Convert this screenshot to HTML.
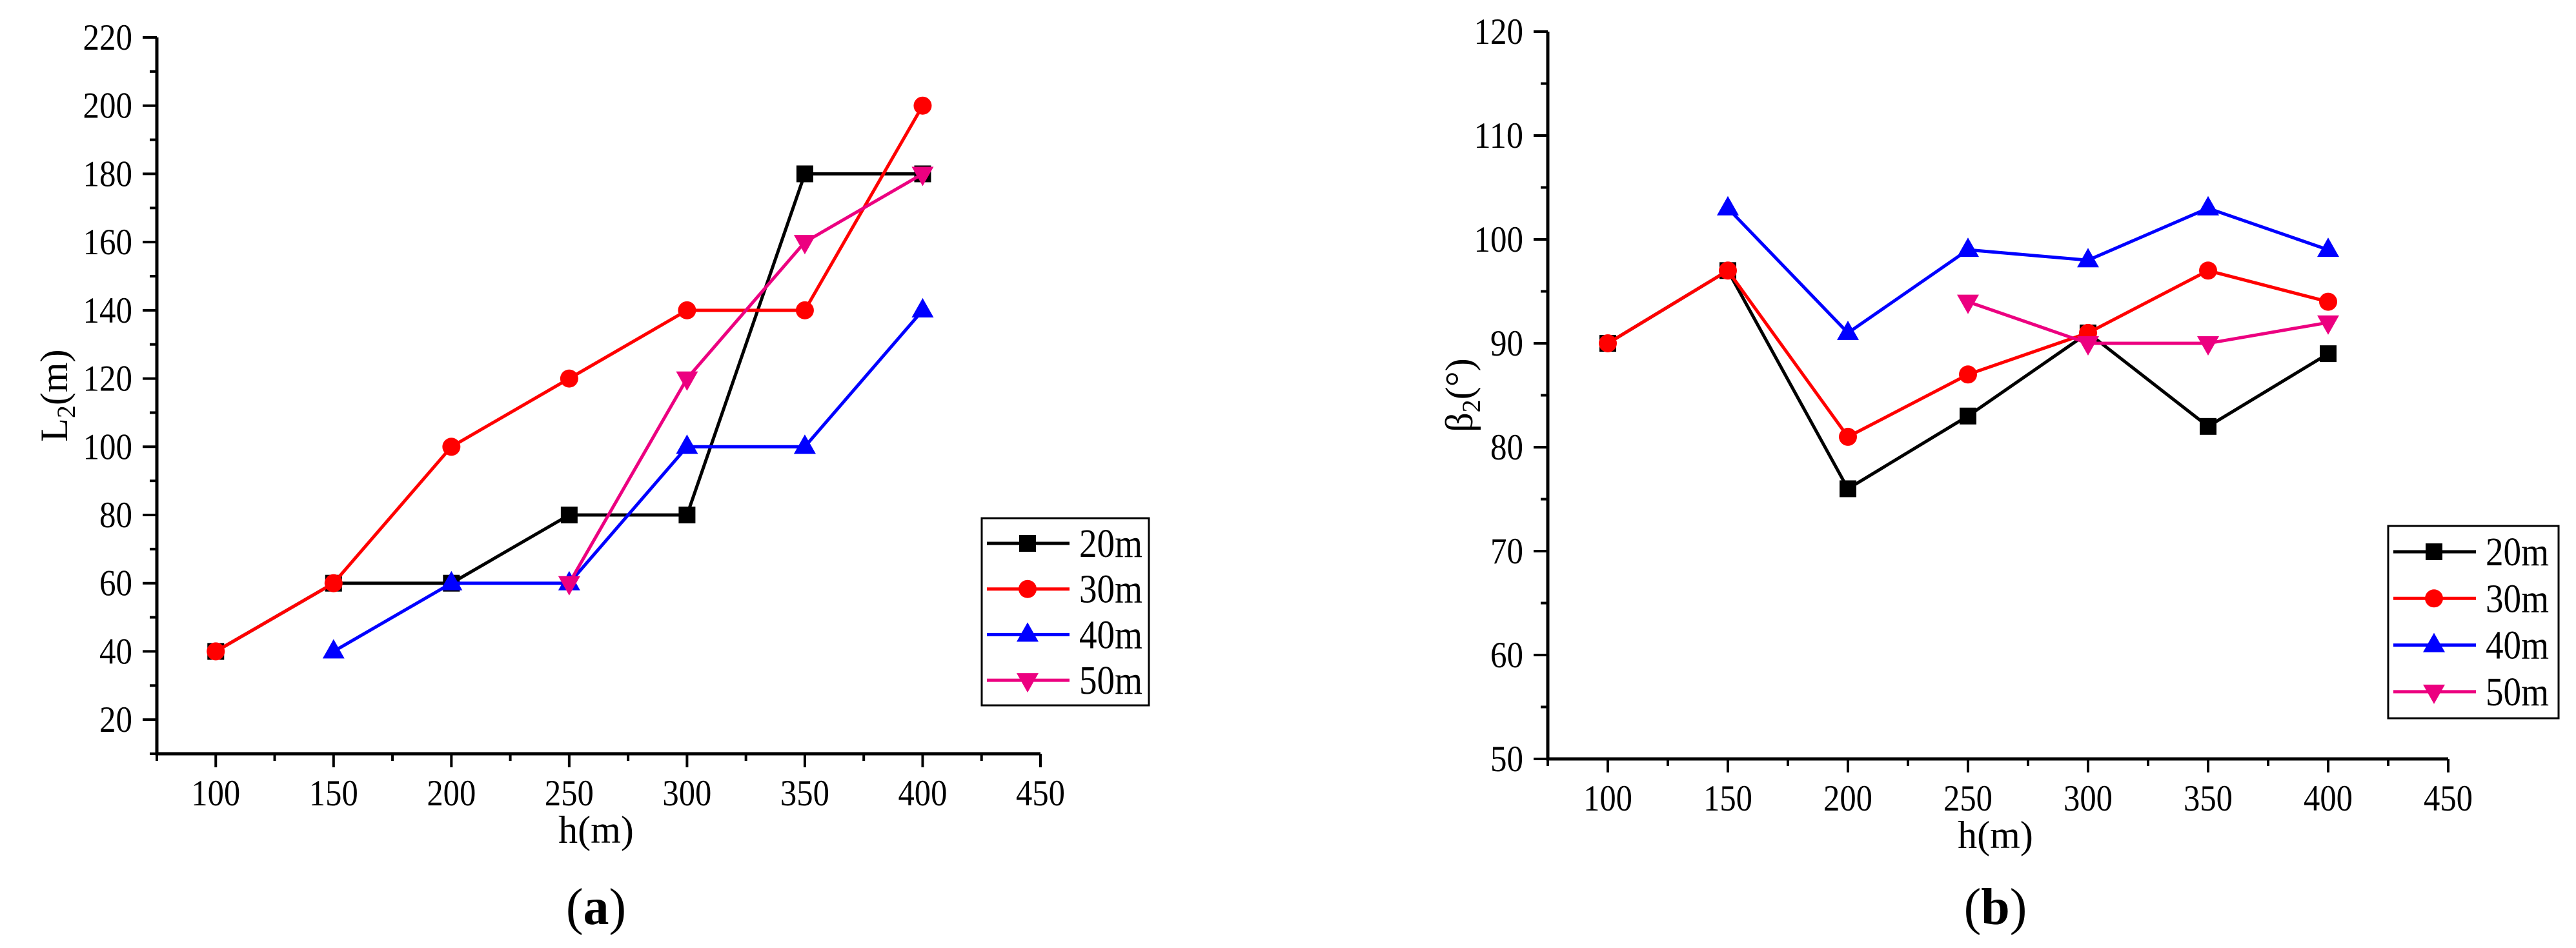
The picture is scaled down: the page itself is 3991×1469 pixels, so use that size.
<!DOCTYPE html>
<html><head><meta charset="utf-8"><style>
html,body{margin:0;padding:0;background:#fff;}
svg{display:block;}
text{font-family:"Liberation Serif","DejaVu Serif",serif;fill:#000;}
</style></head>
<body>
<svg id="svg" width="3991" height="1469" viewBox="0 0 3991 1469" xmlns="http://www.w3.org/2000/svg"></svg>
<script>
const xCats = [100,150,200,250,300,350,400];
const seriesNames = ["20m","30m","40m","50m"];
// chart (a) L2
const a20x = [100,150,200,250,300,350,400];
const a20y = [40,60,60,80,80,180,180];
const a30x = [100,150,200,250,300,350,400];
const a30y = [40,60,100,120,140,140,200];
const a40x = [150,200,250,300,350,400];
const a40y = [40,60,60,100,100,140];
const a50x = [250,300,350,400];
const a50y = [60,120,160,180];
const aYTicks = [20,40,60,80,100,120,140,160,180,200,220];
// chart (b) beta2
const b20x = [100,150,200,250,300,350,400];
const b20y = [90,97,76,83,91,82,89];
const b30x = [100,150,200,250,300,350,400];
const b30y = [90,97,81,87,91,97,94];
const b40x = [150,200,250,300,350,400];
const b40y = [103,91,99,98,103,99];
const b50x = [250,300,350,400];
const b50y = [94,90,90,92];
const bYTicks = [50,60,70,80,90,100,110,120];
const xTicks = [100,150,200,250,300,350,400,450];

const NS="http://www.w3.org/2000/svg";
const svg=document.getElementById('svg');
const colors=["#000000","#ff0000","#0000ff","#ec0080"];
const markers=["square","circle","up","down"];
function mk(tag,attrs,parent){const e=document.createElementNS(NS,tag);for(const k in attrs)e.setAttribute(k,attrs[k]);(parent||svg).appendChild(e);return e;}

function marker(type,cx,cy,color,g){
  let e;
  if(type==="square"){e=mk('rect',{x:cx-13,y:cy-13,width:26,height:26,fill:color},g);}
  else if(type==="circle"){e=mk('circle',{cx:cx,cy:cy,r:14,fill:color},g);}
  else if(type==="up"){e=mk('polygon',{points:`${cx},${cy-19} ${cx+17},${cy+11} ${cx-17},${cy+11}`,fill:color},g);}
  else {e=mk('polygon',{points:`${cx},${cy+19} ${cx+17},${cy-11} ${cx-17},${cy-11}`,fill:color},g);}
  return e;
}

function chart(cfg){
  const g=mk('g',{});
  
  
  const X=v=>cfg.x0+(v-75)/375*(cfg.x1-cfg.x0);
  const Y=v=>cfg.yb-(v-cfg.ymin)/(cfg.ymax-cfg.ymin)*(cfg.yb-cfg.yt);
  const ax=mk('path',{d:`M${cfg.x0},${cfg.yt} L${cfg.x0},${cfg.yb} L${cfg.x1},${cfg.yb}`,stroke:'#000','stroke-width':5,fill:'none'},g);
  
  
  for(let v=75;v<=450;v+=25){
    const major=(v%50===0);
    mk('line',{x1:X(v),x2:X(v),y1:cfg.yb,y2:cfg.yb+(major?21:11),stroke:'#000','stroke-width':4},g);
  }
  xTicks.forEach(v=>{
    const t=mk('text',{x:X(v),y:cfg.yb+80,'text-anchor':'middle','font-size':57,textLength:76,lengthAdjust:'spacingAndGlyphs'},g);
    t.textContent=v;
    
    
  });
  const ys=cfg.yTicks, step=ys[1]-ys[0];
  for(let v=cfg.ymin;v<=cfg.ymax+0.001;v+=step/2){
    const major=Math.abs(((v-ys[0])/step)-Math.round((v-ys[0])/step))<0.01;
    mk('line',{x1:cfg.x0-(major?22:11),x2:cfg.x0,y1:Y(v),y2:Y(v),stroke:'#000','stroke-width':4},g);
  }
  ys.forEach(v=>{
    const s=String(v);
    const t=mk('text',{x:cfg.x0-38,y:Y(v)+19,'text-anchor':'end','font-size':57,textLength:s.length*25.5,lengthAdjust:'spacingAndGlyphs'},g);
    t.textContent=s;
    
    
  });
  const xt=mk('text',{x:(cfg.x0+cfg.x1)/2-4,y:cfg.yb+138,'text-anchor':'middle','font-size':60},g);
  xt.textContent='h(m)';
  
  
  const yt=mk('text',{x:0,y:0,'text-anchor':'middle','font-size':60,transform:`translate(${cfg.ytx},${(cfg.yt+cfg.yb)/2}) rotate(-90)`},g);
  yt.innerHTML=cfg.ytitle;
  
  
  const cap=mk('text',{x:(cfg.x0+cfg.x1)/2-4,y:1432,'text-anchor':'middle','font-size':80},g);
  cap.innerHTML='(<tspan font-weight="bold">'+cfg.cap+'</tspan>)';
  
  
  cfg.series.forEach((s,i)=>{
    const sg=mk('g',{},g);
    
    
    const pts=s.x.map((xv,j)=>X(xv)+','+Y(s.y[j])).join(' ');
    const pl=mk('polyline',{points:pts,fill:'none',stroke:colors[i],'stroke-width':5},sg);
    
    
    s.x.forEach((xv,j)=>{
      const m=marker(markers[i],X(xv),Y(s.y[j]),colors[i],sg);
      
      
    });
  });
  const L=cfg.leg;
  const lg=mk('g',{},g);
  
  
  mk('rect',{x:L.x,y:L.y,width:L.w,height:L.h,fill:'#fff',stroke:'#000','stroke-width':3},lg);
  seriesNames.forEach((n,i)=>{
    const ey=L.y+L.first+i*L.gap;
    const eg=mk('g',{},lg);
    
    
    mk('line',{x1:L.x+8,x2:L.x+136,y1:ey,y2:ey,stroke:colors[i],'stroke-width':5},eg);
    marker(markers[i],L.x+71,ey,colors[i],eg);
    const t=mk('text',{x:L.x+151,y:ey+21,'font-size':62,textLength:98,lengthAdjust:'spacingAndGlyphs'},eg);
    t.textContent=n;
  });
}

chart({name:'chart-a',x0:243,x1:1612,yt:58,yb:1168,ymin:10,ymax:220,yTicks:aYTicks,ytx:104,
  ytitle:'L<tspan font-size="40" dy="12">2</tspan><tspan dy="-12">(m)</tspan>',cap:'a',
  series:[{x:a20x,y:a20y},{x:a30x,y:a30y},{x:a40x,y:a40y},{x:a50x,y:a50y}],
  leg:{x:1521,y:803,w:259,h:290,first:39,gap:70.7}});
chart({name:'chart-b',x0:2398,x1:3793,yt:49,yb:1176,ymin:50,ymax:120,yTicks:bYTicks,ytx:2281,
  ytitle:'β<tspan font-size="40" dy="12">2</tspan><tspan dy="-12">(°)</tspan>',cap:'b',
  series:[{x:b20x,y:b20y},{x:b30x,y:b30y},{x:b40x,y:b40y},{x:b50x,y:b50y}],
  leg:{x:3700,y:815,w:264,h:298,first:40,gap:72.3}});
</script>
</body></html>
